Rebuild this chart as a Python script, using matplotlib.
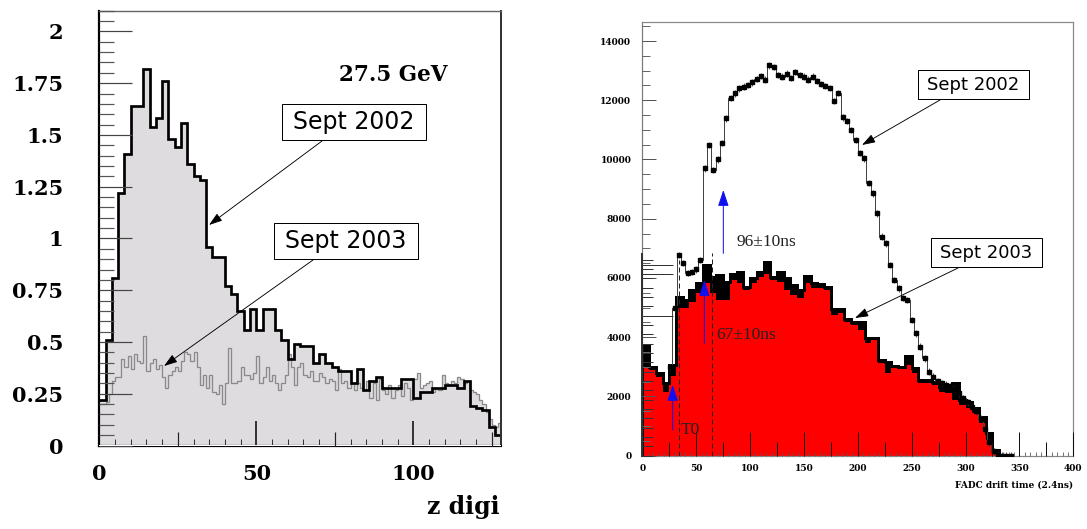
import numpy as np
import matplotlib
matplotlib.use("Agg")
import matplotlib.pyplot as plt
from matplotlib.patches import Rectangle, FancyArrowPatch
from matplotlib.ticker import MultipleLocator, FixedLocator

W, H = 1087, 529
PT = 0.72  # points per pixel at 100 dpi

# ---------------- z digi distributions at 27.5 GeV ----------------
zdigi_edges_2002 = np.arange(0, 129, 2)
zdigi_2002 = [0.22, 0.51, 0.81, 1.22, 1.41, 1.64, 1.64, 1.82, 1.54, 1.58,
              1.76, 1.48, 1.44, 1.56, 1.36, 1.30, 1.28, 0.96, 0.91, 0.91,
              0.77, 0.73, 0.65, 0.56, 0.66, 0.56, 0.66, 0.66, 0.56, 0.51,
              0.42, 0.49, 0.48, 0.48, 0.40, 0.44, 0.40, 0.38, 0.36, 0.36,
              0.30, 0.37, 0.27, 0.31, 0.33, 0.28, 0.28, 0.28, 0.32, 0.32,
              0.23, 0.26, 0.26, 0.28, 0.28, 0.29, 0.29, 0.28, 0.31, 0.19,
              0.18, 0.17, 0.09, 0.05]

zdigi_edges_2003 = np.arange(0, 129, 1)
zdigi_2003 = [0.20, 0.20, 0.21, 0.25, 0.31, 0.33, 0.33, 0.42, 0.38, 0.43,
              0.37, 0.44, 0.41, 0.40, 0.53, 0.36, 0.40, 0.42, 0.37, 0.39,
              0.33, 0.28, 0.34, 0.36, 0.38, 0.36, 0.41, 0.45, 0.44, 0.41,
              0.45, 0.38, 0.29, 0.34, 0.28, 0.34, 0.26, 0.25, 0.29, 0.20,
              0.30, 0.47, 0.30, 0.30, 0.31, 0.38, 0.34, 0.34, 0.32, 0.35,
              0.43, 0.30, 0.33, 0.38, 0.31, 0.34, 0.30, 0.27, 0.30, 0.34,
              0.44, 0.38, 0.29, 0.38, 0.40, 0.34, 0.33, 0.36, 0.31, 0.31,
              0.35, 0.33, 0.30, 0.32, 0.31, 0.27, 0.37, 0.30, 0.31, 0.28,
              0.30, 0.27, 0.30, 0.28, 0.27, 0.31, 0.23, 0.30, 0.22, 0.32,
              0.27, 0.25, 0.29, 0.23, 0.27, 0.29, 0.24, 0.30, 0.28, 0.22,
              0.32, 0.35, 0.28, 0.29, 0.30, 0.31, 0.26, 0.28, 0.27, 0.34,
              0.30, 0.29, 0.31, 0.30, 0.33, 0.32, 0.30, 0.31, 0.27, 0.26,
              0.25, 0.22, 0.20, 0.16, 0.13, 0.10, 0.09, 0.11]

zdigi_yticks = [0, 0.25, 0.5, 0.75, 1, 1.25, 1.5, 1.75, 2]
zdigi_ylabels = ["0", "0.25", "0.5", "0.75", "1", "1.25", "1.5", "1.75", "2"]
zdigi_xticks = [0, 50, 100]

# ---------------- FADC drift time spectra ----------------
drift_edges_2002 = np.arange(24, 345, 4)
drift_2002 = [3000, 4970, 6780, 6500, 6160, 6200, 6290, 6610, 9700, 10490,
              9650, 10000, 10550, 11390, 12070, 12230, 12400, 12460, 12520, 12600,
              12710, 12820, 12700, 13180, 13130, 12850, 12800, 12900, 12750, 12950,
              12850, 12800, 12700, 12800, 12650, 12550, 12480, 12420, 11980, 12250,
              11420, 11300, 11000, 10660, 10220, 10040, 9200, 8860, 8180, 7400,
              7170, 6440, 5930, 5650, 5320, 5260, 4580, 4130, 3680, 3290,
              2840, 2670, 2520, 2450, 2400, 2350, 2250, 2100, 1950, 1800,
              1650, 1500, 1250, 900, 450, 150, 30, 0, 0, 0]
drift_err_2002 = 110

drift_edges_2003 = np.arange(54) * 6.25
drift_2003_outline = [3750, 3000, 2800, 2450, 3050, 5350, 5250, 5600, 5820, 6440,
                      6040, 6100, 5880, 6150, 6210, 5710, 5990, 6210, 6550, 6040,
                      6200, 6000, 5760, 5590, 6070, 5820, 5800, 5680, 4950, 4950,
                      4610, 4520, 4520, 3960, 3960, 3230, 3150, 3030, 3000, 3370,
                      2950, 2555, 2555, 2500, 2330, 2390, 2440, 1880, 1825, 1600,
                      1320, 755, 193]
drift_2003_fill = [3000, 2880, 2650, 2150, 2700, 5000, 4980, 5200, 5480, 5820,
                   5480, 5260, 5260, 5930, 5820, 5590, 5820, 6040, 6150, 5930,
                   5880, 5590, 5420, 5310, 5820, 5650, 5650, 5590, 4750, 4810,
                   4525, 4400, 4245, 3795, 3910, 3120, 2780, 2950, 2950, 3060,
                   2780, 2440, 2440, 2390, 2160, 2105, 1880, 1710, 1600, 1430,
                   1090, 530, 80]

drift_yticks = [0, 2000, 4000, 6000, 8000, 10000, 12000, 14000]
drift_xticks = [0, 50, 100, 150, 200, 250, 300, 350, 400]

fig = plt.figure(figsize=(W / 100, H / 100), dpi=100)
fig.patch.set_facecolor("white")


def axes_px(left, top, right, bottom):
    return fig.add_axes([left / W, 1 - bottom / H, (right - left) / W, (bottom - top) / H])


SERIF_B = dict(family="DejaVu Serif", weight="bold")

# ======================= left panel =======================
axL = axes_px(99.3, 10.7, 501.3, 445.5)
axL.set_xlim(0, 128)
axL.set_ylim(0, 2.1)
fill_grey = "#dedcdf"
axL.stairs(zdigi_2003, zdigi_edges_2003, fill=True, color=fill_grey, zorder=1)
axL.stairs(zdigi_2002, zdigi_edges_2002, fill=True, color=fill_grey, zorder=1)
axL.stairs(zdigi_2003, zdigi_edges_2003, baseline=None, color="#8a8a8a",
           lw=1.3 * PT, zorder=1.6)
axL.stairs(zdigi_2002, zdigi_edges_2002, baseline=None, color="black",
           lw=2.7 * PT, zorder=1.7)

axL.set_axisbelow(False)
axL.set_yticks(zdigi_yticks, zdigi_ylabels)
axL.yaxis.set_minor_locator(MultipleLocator(0.05))
axL.set_xticks(zdigi_xticks, [str(v) for v in zdigi_xticks])
axL.xaxis.set_minor_locator(MultipleLocator(5))
axL.tick_params(axis="y", which="major", direction="in", length=24, width=1.2 * PT,
                color="#444444", pad=36 * PT, labelsize=15)
axL.tick_params(axis="y", which="minor", direction="in", length=11, width=1.2 * PT,
                color="#555555")
axL.tick_params(axis="x", which="major", direction="in", length=18, width=1.5 * PT,
                color="black", pad=18 * PT, labelsize=15)
axL.tick_params(axis="x", which="minor", direction="in", length=5, width=1.0 * PT,
                color="#333333")
for lab in axL.get_xticklabels() + axL.get_yticklabels():
    lab.set_fontfamily("DejaVu Serif")
    lab.set_fontweight("bold")
for side, c, w in (("left", "black", 2.2), ("bottom", "black", 2.2),
                   ("top", "#666666", 1.4), ("right", "#333333", 2.0)):
    axL.spines[side].set_color(c)
    axL.spines[side].set_linewidth(w * PT)

secL = axL.secondary_xaxis("bottom")
secL.set_xticks([25, 75, 125])
secL.tick_params(axis="x", direction="in", length=10, width=1.2 * PT, color="#222222",
                 labelbottom=False)
secL.spines["bottom"].set_visible(False)
secL.set_zorder(3)

fig.text(393 / W, 1 - 75 / H, "27.5 GeV", ha="center", va="center", fontsize=15.5, **SERIF_B)
fig.text(500 / W, 1 - 507 / H, "z digi", ha="right", va="center", fontsize=17, **SERIF_B)

# ======================= right panel =======================
axR = axes_px(642.3, 22.3, 1073.3, 455.7)
axR.set_xlim(0, 400)
axR.set_ylim(0, 14632)

axR.stairs(drift_2003_outline, drift_edges_2003, fill=True, color="black", zorder=1)
axR.stairs(drift_2003_fill, drift_edges_2003, fill=True, color="#ff0000", zorder=1.1)
axR.stairs(drift_2003_outline, drift_edges_2003, color="black", lw=3.0 * PT, zorder=1.2)

axR.stairs(drift_2002, drift_edges_2002, baseline=None, color="#444444",
           lw=1.0 * PT, zorder=2.6)
centers_2002 = 0.5 * (drift_edges_2002[:-1] + drift_edges_2002[1:])
axR.errorbar(centers_2002, drift_2002, yerr=drift_err_2002, fmt="s", ms=4.6 * PT,
             mfc="black", mec="black", ecolor="#333333", elinewidth=0.8 * PT,
             capsize=0, zorder=2.7)

# drift-window boundaries
window_lines = [(34.5, 6600), (64.5, 6850)]
for xv, top in window_lines:
    axR.plot([xv, xv], [0, top], ls=(0, (5, 3)), color="#222222", lw=1.0 * PT, zorder=2.8)

arrow_kw = dict(arrowstyle="-|>,head_length=0.9,head_width=0.3", color="#1010ee",
                lw=1.0 * PT, mutation_scale=11, shrinkA=0, shrinkB=0)
blue_arrows = [(28.2, 870, 2390), (57.6, 3790, 5930), (75.2, 6830, 8970)]
for xa, y0, y1 in blue_arrows:
    axR.annotate("", xy=(xa, y1), xytext=(xa, y0), arrowprops=arrow_kw, zorder=3)

text_kw = dict(family="Liberation Serif", fontsize=12.5, color="#222222", va="center", zorder=3)
axR.text(35.5, 870, "T0", **text_kw)
axR.text(69.0, 4060, "67\u00b110ns", **text_kw)
axR.text(87.6, 7215, "96\u00b110ns", **text_kw)

axR.set_axisbelow(False)
axR.set_yticks(drift_yticks, [str(v) for v in drift_yticks])
axR.yaxis.set_minor_locator(MultipleLocator(500))
axR.set_xticks(drift_xticks, [str(v) for v in drift_xticks])
axR.xaxis.set_minor_locator(MultipleLocator(5))
axR.tick_params(axis="y", which="major", direction="in", length=10, width=1.0 * PT,
                color="#555555", pad=11 * PT, labelsize=6.5)
axR.tick_params(axis="y", which="minor", direction="in", length=5.5, width=1.0 * PT,
                color="#666666")
axR.tick_params(axis="x", which="major", direction="in", length=17, width=1.0 * PT,
                color="#111111", pad=8 * PT, labelsize=6.5)
axR.tick_params(axis="x", which="minor", direction="in", length=3, width=0.8 * PT,
                color="#555555")
for lab in axR.get_xticklabels() + axR.get_yticklabels():
    lab.set_fontfamily("DejaVu Serif")
    lab.set_fontweight("bold")
for side in ("top", "right", "bottom"):
    axR.spines[side].set_color("#888888")
    axR.spines[side].set_linewidth(1.2 * PT)
axR.spines["left"].set_color("#777777")
axR.spines["left"].set_linewidth(1.2 * PT)

secRx = axR.secondary_xaxis("bottom")
secRx.set_xticks([25, 75, 125, 175, 225, 275, 325, 375])
secRx.tick_params(axis="x", direction="in", length=10, width=1.0 * PT, color="#111111",
                  labelbottom=False)
secRx.spines["bottom"].set_visible(False)
secRx.set_zorder(3)

# axis of the overlaid 2003 spectrum
secRy = axR.secondary_yaxis("left")
secRy.set_yticks([4700, 6150, 6450])
secRy.yaxis.set_minor_locator(FixedLocator(np.arange(0, 6700, 315)))
secRy.tick_params(axis="y", which="major", direction="in", length=22, width=1.0 * PT,
                  color="#333333", labelleft=False)
secRy.tick_params(axis="y", which="minor", direction="in", length=8, width=1.0 * PT,
                  color="#333333")
secRy.spines["left"].set_bounds(0, 6800)
secRy.spines["left"].set_linewidth(2.0 * PT)
secRy.spines["left"].set_color("#333333")
secRy.set_zorder(3)

fig.text(1073 / W, 1 - 485 / H, "FADC drift time (2.4ns)", ha="right", va="center",
         fontsize=6.5, **SERIF_B)


# ======================= labels with pointers =======================
def fig_xy(x, y):
    return (x / W, 1 - y / H)


def label_box(x0, y0, x1, y1, text, size, tail, tip):
    fig.add_artist(Rectangle(fig_xy(x0, y1), (x1 - x0) / W, (y1 - y0) / H,
                             transform=fig.transFigure, facecolor="white",
                             edgecolor="black", lw=1.0 * PT, zorder=5))
    fig.text((x0 + x1) / 2 / W, 1 - (y0 + y1) / 2 / H, text, ha="center", va="center",
             fontsize=size, family="DejaVu Sans", zorder=6)
    fig.add_artist(FancyArrowPatch(fig_xy(*tail), fig_xy(*tip), transform=fig.transFigure,
                                   arrowstyle="-|>,head_length=0.9,head_width=0.3",
                                   color="black", lw=0.9 * PT, mutation_scale=9,
                                   shrinkA=0, shrinkB=0, zorder=6))


label_box(282, 104, 426, 140, "Sept 2002", 17, (322, 141), (209, 225))
label_box(274, 223, 418, 259, "Sept 2003", 17, (313, 260), (164, 366))
label_box(918, 70, 1029, 99, "Sept 2002", 13, (940, 100), (862, 145))
label_box(931, 238, 1042, 267, "Sept 2003", 13, (958, 268), (855, 318))

fig.savefig("out.png", dpi=100)
